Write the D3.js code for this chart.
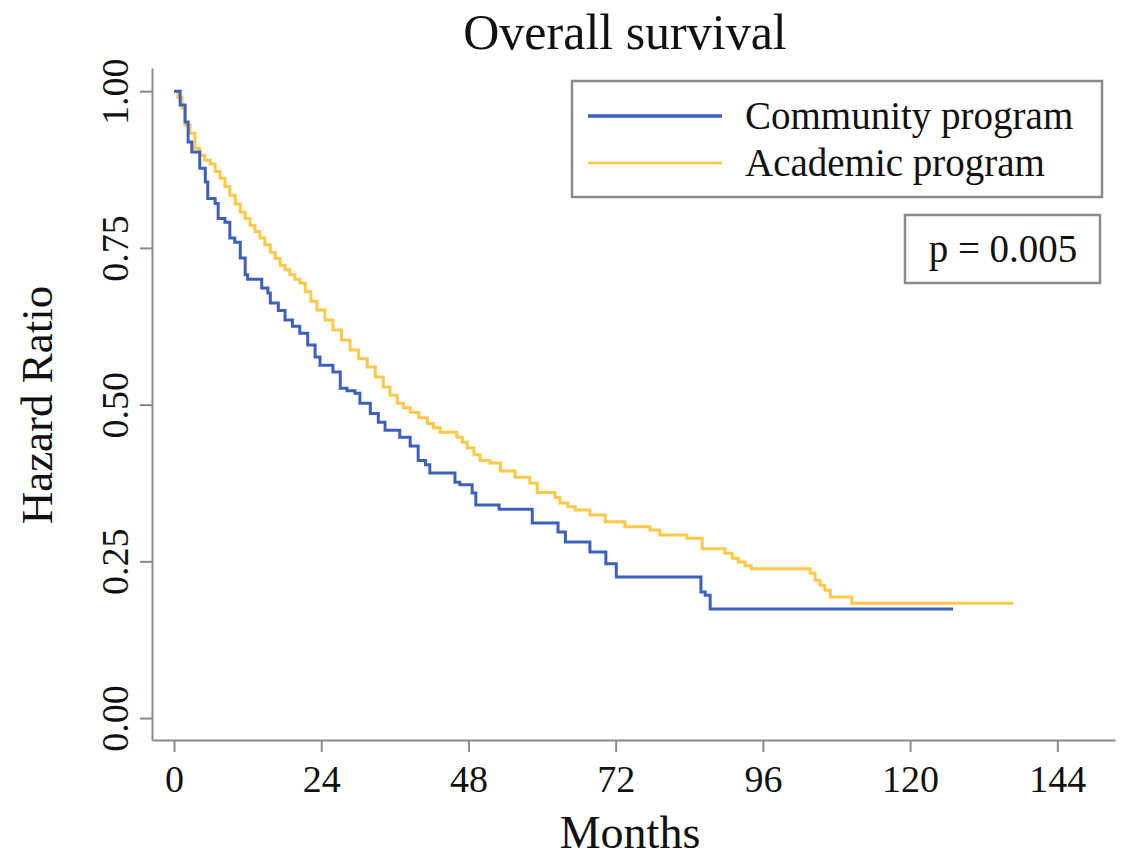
<!DOCTYPE html>
<html lang="en">
<head>
  <meta charset="UTF-8" />
  <title>Overall survival</title>
  <script src="https://d3js.org/d3.v7.min.js"></script>
  <style>
    body {
      margin: 0;
      background: #fff;
      overflow: hidden;
    }

    svg {
      display: block;
      font-family: "Liberation Serif", "DejaVu Serif", serif;
    }

    .axis path,
    .axis line {
      stroke: #8a8a8a;
      stroke-width: 2px;
    }

    .axis text {
      font-family: "Liberation Serif", serif;
      font-size: 38px;
      fill: #111;
    }
  </style>
</head>
<body>
  <svg width="1122" height="859"></svg>
  <script>
    // Kaplan-Meier steps: month of each drop, survival after it
    const communityMonths = [0, 1.0, 1.8, 2.3, 2.9, 4.2, 5.1, 5.5, 6.7, 7.2, 8.3, 9.1, 9.9, 10.8, 11.6, 12.0,
      14.3, 15.3, 15.7, 17.0, 18.1, 19.3, 20.5, 21.8, 23.0, 23.8, 25.9, 27.1, 28.2, 29.5, 30.3, 32.0,
      33.3, 34.4, 36.8, 38.5, 39.8, 41.0, 41.7, 45.8, 46.6, 48.6, 49.2, 53.0, 58.4, 62.6, 63.8, 67.8,
      70.4, 72.1, 85.9, 86.6, 87.4, 127.0];
    const communitySurv = [1.0, 0.978, 0.951, 0.919, 0.903, 0.877, 0.855, 0.829, 0.821, 0.797, 0.791, 0.766, 0.759, 0.734, 0.707, 0.700,
      0.686, 0.678, 0.662, 0.650, 0.635, 0.625, 0.614, 0.595, 0.576, 0.563, 0.552, 0.526, 0.522, 0.518, 0.502, 0.486,
      0.472, 0.459, 0.448, 0.434, 0.411, 0.404, 0.391, 0.376, 0.372, 0.359, 0.340, 0.333, 0.311, 0.297, 0.281, 0.265,
      0.246, 0.225, 0.201, 0.196, 0.174, 0.174];

    const academicMonths = [0, 0.65, 1.3, 1.8, 2.6, 3.4, 4.2, 5.0, 5.9, 6.7, 7.5, 8.3, 9.1, 10.0, 10.8, 11.6,
      12.4, 13.2, 14.0, 14.8, 15.7, 16.5, 17.3, 18.1, 18.9, 19.7, 20.5, 21.4, 22.3, 23.3, 24.6, 25.9,
      27.3, 28.7, 30.1, 31.5, 32.8, 34.1, 35.2, 36.4, 37.4, 38.5, 39.9, 41.3, 42.3, 43.4, 46.1, 47.0,
      47.8, 48.9, 49.9, 51.5, 53.2, 55.6, 58.0, 59.2, 62.1, 62.9, 64.2, 65.4, 67.8, 70.3, 73.5, 77.6,
      79.2, 83.6, 86.1, 89.8, 91.0, 92.0, 93.1, 94.1, 103.7, 104.5, 105.3, 106.1, 107.0, 110.5, 136.8];
    const academicSurv = [1.0, 0.990, 0.973, 0.946, 0.933, 0.909, 0.898, 0.890, 0.884, 0.872, 0.861, 0.848, 0.834, 0.820, 0.807, 0.797,
      0.786, 0.776, 0.766, 0.755, 0.743, 0.733, 0.722, 0.715, 0.707, 0.700, 0.694, 0.680, 0.665, 0.651, 0.635, 0.619,
      0.603, 0.587, 0.573, 0.560, 0.544, 0.528, 0.515, 0.502, 0.495, 0.488, 0.479, 0.470, 0.463, 0.456, 0.448, 0.440,
      0.431, 0.420, 0.411, 0.407, 0.394, 0.384, 0.375, 0.360, 0.352, 0.343, 0.337, 0.332, 0.324, 0.313, 0.305, 0.300,
      0.292, 0.287, 0.270, 0.263, 0.255, 0.249, 0.243, 0.238, 0.231, 0.220, 0.212, 0.204, 0.193, 0.183, 0.183];

    const xTicks = [0, 24, 48, 72, 96, 120, 144];
    const yTicks = [0, 0.25, 0.5, 0.75, 1];

    const seriesNames = ["Community program", "Academic program"];
    const seriesColors = ["#3d5fbd", "#ffc847"];
    const pLabel = "p = 0.005";

    const svg = d3.select("svg");

    // axis lines run a little past the first / last tick like the original
    const x = d3.scaleLinear().domain([-3.59, 153.4]).range([152, 1115]);
    const y = d3.scaleLinear().domain([-0.035, 1.037]).range([740, 68]);

    svg.append("rect").attr("width", 1122).attr("height", 859).attr("fill", "#fff");

    const xAxis = svg.append("g")
      .attr("class", "axis")
      .attr("transform", "translate(0,740)")
      .call(d3.axisBottom(x).tickValues(xTicks).tickSize(12).tickSizeOuter(0).tickPadding(13)
        .tickFormat(d3.format("d")));
    xAxis.selectAll("text").attr("dy", "0.71em");

    const yAxis = svg.append("g")
      .attr("class", "axis")
      .attr("transform", "translate(152,0)")
      .call(d3.axisLeft(y).tickValues(yTicks).tickSize(12).tickSizeOuter(0)
        .tickFormat(d3.format(".2f")));
    yAxis.selectAll("text")
      .attr("x", null).attr("dy", null)
      .attr("text-anchor", "middle")
      .attr("transform", "translate(-24,0) rotate(-90)");

    const series = [
      { name: seriesNames[0], color: seriesColors[0], width: 3,
        pts: communityMonths.map((m, i) => [m, communitySurv[i]]) },
      { name: seriesNames[1], color: seriesColors[1], width: 3,
        pts: academicMonths.map((m, i) => [m, academicSurv[i]]) }
    ];

    const line = d3.line()
      .x(d => x(d[0]))
      .y(d => y(d[1]))
      .curve(d3.curveStepAfter);

    // academic drawn first so community sits on top
    svg.append("g").selectAll("path")
      .data(series.slice().reverse())
      .join("path")
      .attr("fill", "none")
      .attr("stroke", d => d.color)
      .attr("stroke-width", d => d.width)
      .attr("d", d => line(d.pts));

    // titles
    svg.append("text")
      .attr("x", 625).attr("y", 49)
      .attr("text-anchor", "middle")
      .attr("font-size", 50)
      .attr("fill", "#111")
      .text("Overall survival");

    svg.append("text")
      .attr("x", 630).attr("y", 848)
      .attr("text-anchor", "middle")
      .attr("font-size", 46)
      .attr("fill", "#111")
      .text("Months");

    svg.append("text")
      .attr("transform", "translate(52,405) rotate(-90)")
      .attr("text-anchor", "middle")
      .attr("font-size", 45)
      .attr("fill", "#111")
      .text("Hazard Ratio");

    // legend
    const legend = svg.append("g");
    legend.append("rect")
      .attr("x", 572).attr("y", 81).attr("width", 530).attr("height", 116)
      .attr("fill", "#fff").attr("stroke", "#8a8a8a").attr("stroke-width", 2.5);

    const rows = legend.selectAll("g.row")
      .data(series)
      .join("g")
      .attr("class", "row")
      .attr("transform", (d, i) => `translate(0,${116 + i * 47})`);

    rows.append("line")
      .attr("x1", 588).attr("x2", 722)
      .attr("stroke", d => d.color)
      .attr("stroke-width", (d, i) => i === 0 ? 3.5 : 2.5);

    rows.append("text")
      .attr("x", 745).attr("dy", "0.33em")
      .attr("font-size", 39)
      .attr("fill", "#111")
      .text(d => d.name);

    // p-value box
    svg.append("rect")
      .attr("x", 905).attr("y", 215).attr("width", 195).attr("height", 68)
      .attr("fill", "#fff").attr("stroke", "#8a8a8a").attr("stroke-width", 2.5);

    svg.append("text")
      .attr("x", 1003).attr("y", 262)
      .attr("text-anchor", "middle")
      .attr("font-size", 39)
      .attr("fill", "#111")
      .text(pLabel);
  </script>
</body>
</html>
